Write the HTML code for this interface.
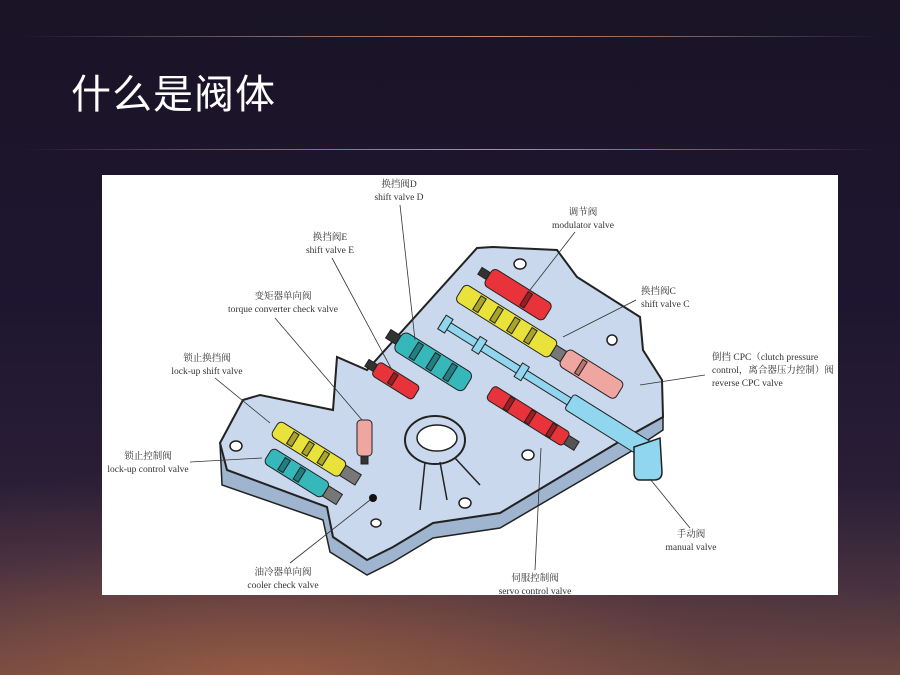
<!DOCTYPE html>
<html><head><meta charset="utf-8"><style>
html,body{margin:0;padding:0;width:900px;height:675px;overflow:hidden}
body{position:relative;
background:linear-gradient(180deg,#1a1426 0%,#1e1630 45%,#2a1e36 72%,#45303f 86%,#6a4740 100%);
font-family:"Liberation Sans","Noto Sans CJK SC",sans-serif}
.glow{position:absolute;left:0;right:0;bottom:0;height:200px;
background:radial-gradient(ellipse at 30% 100%,rgba(190,110,70,.5),rgba(120,70,70,.18) 50%,rgba(0,0,0,0) 75%)}
.ln{position:absolute;left:20px;width:860px;height:1px;
background:linear-gradient(90deg,rgba(200,170,170,0),rgba(200,160,150,.6) 30%,rgba(230,150,110,.9) 55%,rgba(200,160,150,.5) 80%,rgba(200,170,170,0))}
h1{position:absolute;left:71px;top:62px;margin:0;color:#fff;font-size:40px;font-weight:normal;letter-spacing:1px;
font-family:"Noto Sans CJK SC","WenQuanYi Zen Hei",sans-serif}
svg{position:absolute;left:0;top:0}
text{font-family:"Liberation Serif","Noto Serif CJK SC",serif;font-size:9.5px;fill:#333}
</style></head><body>
<div class="glow"></div>
<div class="ln" style="top:36px"></div>
<div class="ln" style="top:149px"></div>
<h1>什么是阀体</h1>
<svg width="900" height="675" viewBox="0 0 900 675">
<rect x="102" y="175" width="736" height="420" fill="#fff"/>
<polygon points="220,443 227,470 327,507 333,537 367,560 393,547 433,523 500,513 627,437 663,417 663,430 630,452 500,528 433,538 393,562 367,575 330,552 323,520 222,485" fill="#9fb4cf" stroke="#222" stroke-width="1.5"/>
<polygon points="220,443 243,400 260,395 333,410 337,357 367,370 477,248 493,247 557,250 577,277 640,317 643,350 662,380 663,417 627,437 500,513 433,523 393,547 367,560 333,537 327,507 227,470" fill="#c9d8ec" stroke="#222" stroke-width="2"/>
<g fill="#fff" stroke="#222" stroke-width="1.5">
<ellipse cx="236" cy="446" rx="6" ry="5"/><ellipse cx="376" cy="523" rx="5" ry="4"/>
<ellipse cx="520" cy="264" rx="6" ry="5"/><ellipse cx="612" cy="340" rx="5" ry="5"/>
<ellipse cx="528" cy="455" rx="6" ry="5"/><ellipse cx="465" cy="503" rx="6" ry="5"/>
</g>
<circle cx="373" cy="498" r="4" fill="#111"/>
<ellipse cx="435" cy="440" rx="30" ry="24" fill="#c9d8ec" stroke="#222" stroke-width="2"/>
<ellipse cx="437" cy="438" rx="20" ry="13" fill="#fff" stroke="#222" stroke-width="1.5"/>
<path d="M425,462 L420,510 M440,462 L447,500 M455,458 L480,485" stroke="#222" stroke-width="1.5" fill="none"/>
<g stroke="#222" stroke-width="1">
<g transform="translate(275,428) rotate(32)">
<rect x="0" y="-9" width="80" height="18" rx="5" fill="#e8e23a"/>
<rect x="18" y="-7" width="6" height="14" fill="#a9a32a"/><rect x="36" y="-7" width="6" height="14" fill="#a9a32a"/><rect x="54" y="-7" width="6" height="14" fill="#a9a32a"/>
<rect x="80" y="-6" width="18" height="12" fill="#777"/></g>
<g transform="translate(268,455) rotate(32)">
<rect x="0" y="-9" width="68" height="18" rx="5" fill="#36b8bb"/>
<rect x="16" y="-7" width="6" height="14" fill="#217f82"/><rect x="34" y="-7" width="6" height="14" fill="#217f82"/>
<rect x="68" y="-6" width="16" height="12" fill="#777"/></g>
<rect x="357" y="420" width="15" height="36" rx="4" fill="#f0a6a0"/><rect x="361" y="456" width="7" height="8" fill="#333"/>
<g transform="translate(372,366) rotate(32)">
<rect x="-6" y="-4" width="10" height="8" fill="#333"/>
<rect x="4" y="-8" width="48" height="16" rx="4" fill="#e8333a"/><rect x="22" y="-6" width="5" height="12" fill="#a01c22"/></g>
<g transform="translate(395,338) rotate(32)">
<rect x="-8" y="-5" width="12" height="10" fill="#333"/>
<rect x="4" y="-11" width="82" height="22" rx="6" fill="#36b8bb"/>
<rect x="22" y="-9" width="6" height="18" fill="#217f82"/><rect x="42" y="-9" width="6" height="18" fill="#217f82"/><rect x="62" y="-9" width="6" height="18" fill="#217f82"/></g>
<g transform="translate(485,274) rotate(32)">
<rect x="-6" y="-4" width="10" height="8" fill="#333"/>
<rect x="4" y="-10" width="70" height="20" rx="5" fill="#e8333a"/><rect x="46" y="-8" width="5" height="16" fill="#a01c22"/></g>
<g transform="translate(460,292) rotate(32)">
<rect x="0" y="-10" width="110" height="20" rx="5" fill="#e8e23a"/>
<rect x="20" y="-8" width="6" height="16" fill="#a9a32a"/><rect x="40" y="-8" width="6" height="16" fill="#a9a32a"/><rect x="60" y="-8" width="6" height="16" fill="#a9a32a"/><rect x="80" y="-8" width="6" height="16" fill="#a9a32a"/>
<rect x="110" y="-6" width="12" height="12" fill="#777"/>
<rect x="122" y="-10" width="66" height="20" rx="5" fill="#f0a6a0"/><rect x="140" y="-8" width="5" height="16" fill="#b77470"/></g>
<g transform="translate(442,322) rotate(32)">
<rect x="0" y="-4" width="160" height="8" fill="#8fd6ee"/>
<rect x="0" y="-8" width="8" height="16" fill="#8fd6ee"/><rect x="40" y="-8" width="8" height="16" fill="#8fd6ee"/><rect x="90" y="-8" width="8" height="16" fill="#8fd6ee"/>
<rect x="150" y="-9" width="95" height="18" rx="3" fill="#8fd6ee"/></g>
<g transform="translate(490,392) rotate(32)">
<rect x="0" y="-8" width="90" height="16" rx="4" fill="#e8333a"/>
<rect x="20" y="-7" width="5" height="14" fill="#a01c22"/><rect x="45" y="-7" width="5" height="14" fill="#a01c22"/><rect x="70" y="-7" width="5" height="14" fill="#a01c22"/>
<rect x="90" y="-5" width="12" height="10" fill="#555"/></g>
<path d="M634,447 L660,438 L662,472 Q662,480 654,480 L640,480 Q634,480 634,472 Z" fill="#8fd6ee" stroke-width="1.5"/>
</g>
<g stroke="#333" stroke-width="0.8">
<line x1="400" y1="205" x2="415" y2="340"/>
<line x1="332" y1="258" x2="392" y2="370"/>
<line x1="275" y1="318" x2="362" y2="420"/>
<line x1="215" y1="378" x2="270" y2="423"/>
<line x1="190" y1="462" x2="262" y2="458"/>
<line x1="290" y1="563" x2="370" y2="500"/>
<line x1="575" y1="232" x2="530" y2="290"/>
<line x1="636" y1="300" x2="563" y2="337"/>
<line x1="705" y1="375" x2="640" y2="385"/>
<line x1="690" y1="528" x2="650" y2="479"/>
<line x1="535" y1="570" x2="541" y2="448"/>
</g>
<g text-anchor="middle">
<text x="399" y="187">换挡阀D</text><text x="399" y="200">shift valve D</text>
<text x="330" y="240">换挡阀E</text><text x="330" y="253">shift valve E</text>
<text x="283" y="299">变矩器单向阀</text><text x="283" y="312">torque converter check valve</text>
<text x="207" y="361">锁止换挡阀</text><text x="207" y="374">lock-up shift valve</text>
<text x="148" y="459">锁止控制阀</text><text x="148" y="472">lock-up control valve</text>
<text x="283" y="575">油冷器单向阀</text><text x="283" y="588">cooler check valve</text>
<text x="583" y="215">调节阀</text><text x="583" y="228">modulator valve</text>
<text x="691" y="537">手动阀</text><text x="691" y="550">manual valve</text>
<text x="535" y="581">伺服控制阀</text><text x="535" y="594">servo control valve</text>
</g>
<text x="641" y="294">换挡阀C</text><text x="641" y="307">shift valve C</text>
<text x="712" y="360">倒挡 CPC（clutch pressure</text>
<text x="712" y="373">control，离合器压力控制）阀</text>
<text x="712" y="386">reverse CPC valve</text>
</svg>
</body></html>
